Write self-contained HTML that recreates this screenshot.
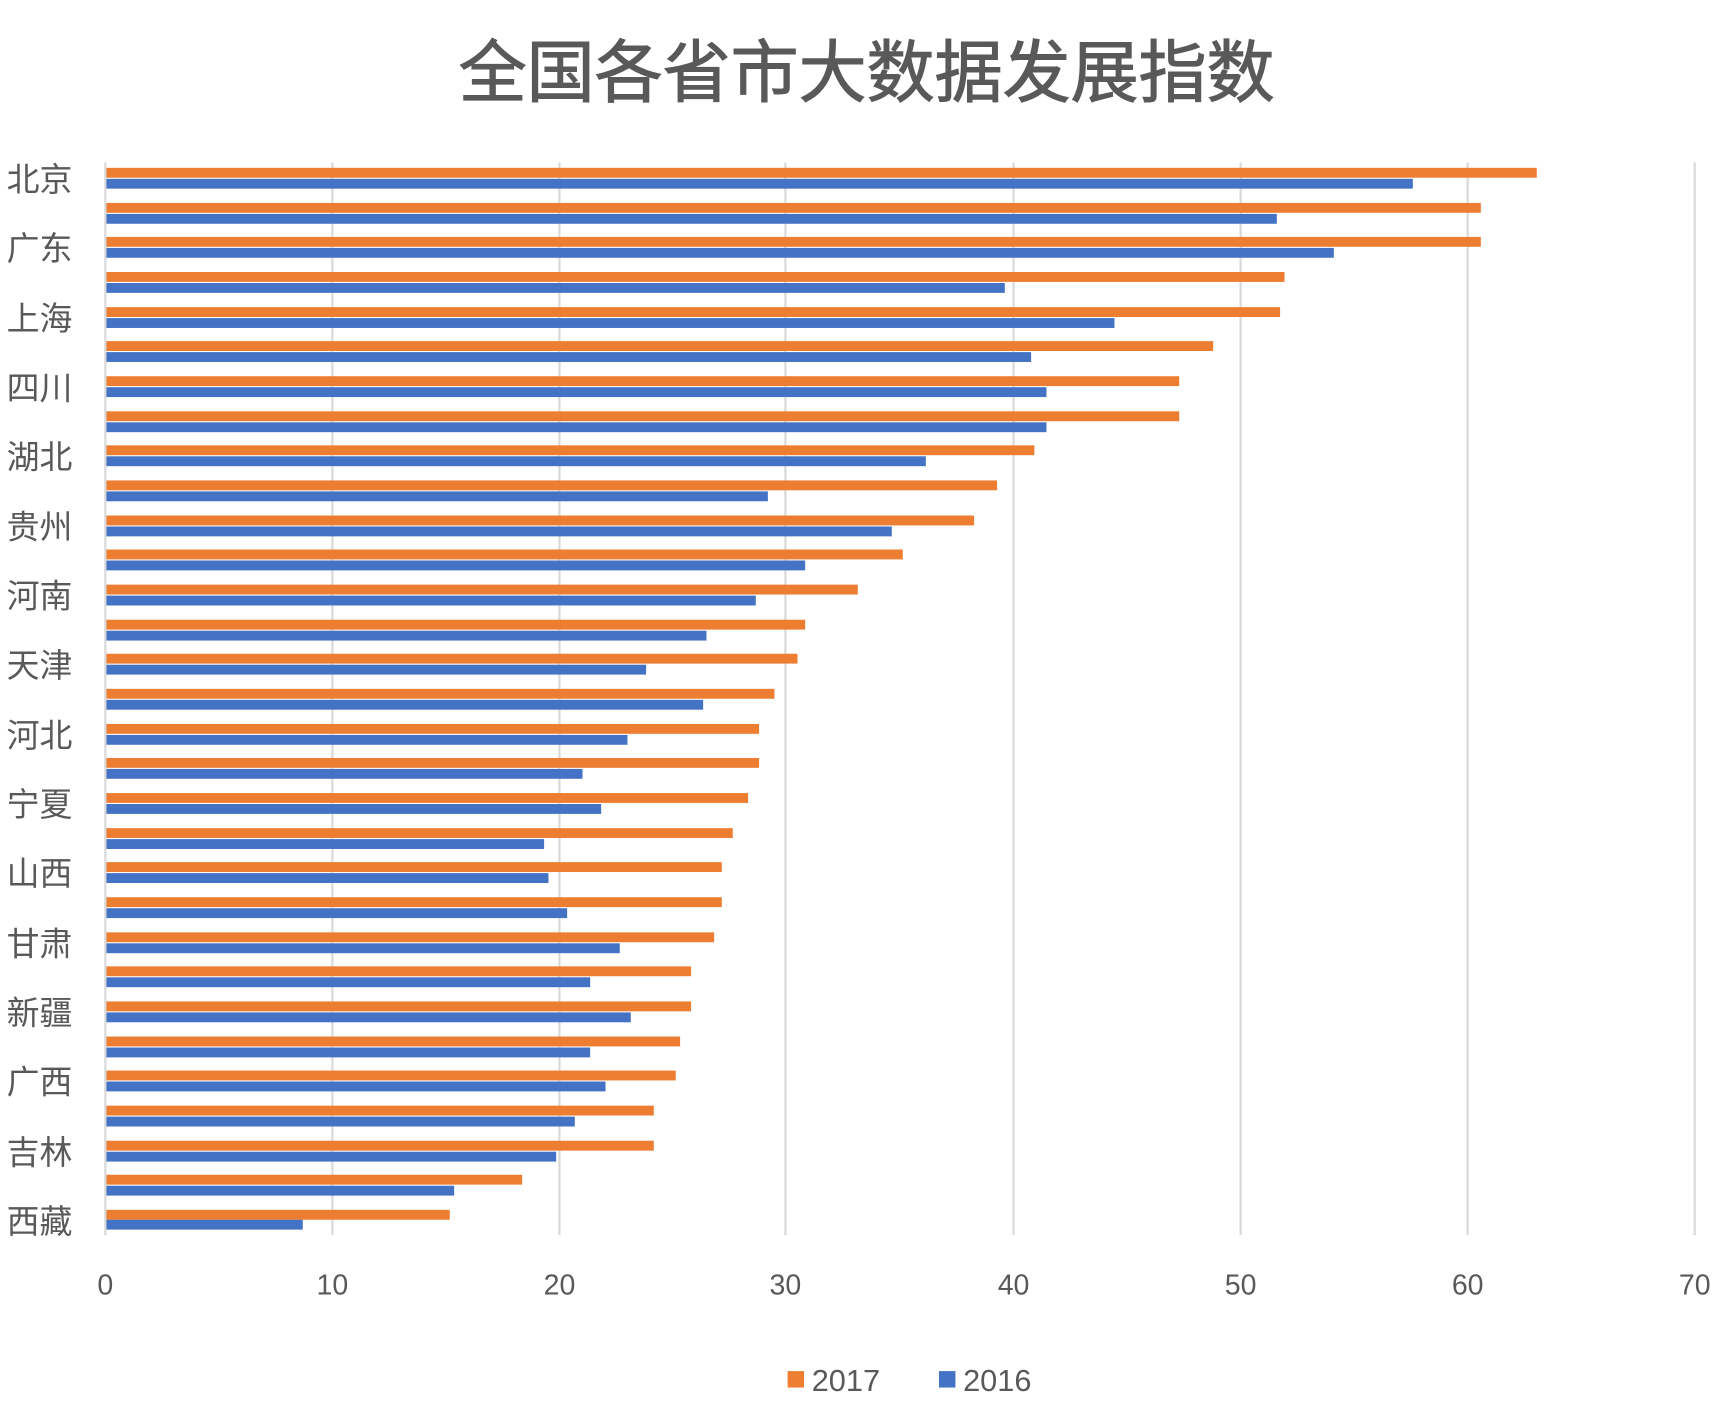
<!DOCTYPE html>
<html><head><meta charset="utf-8"><style>html,body{margin:0;padding:0;background:#fff}svg{display:block}</style></head>
<body>
<svg width="1720" height="1404" viewBox="0 0 1568 1280" xmlns="http://www.w3.org/2000/svg" font-family="'Liberation Sans','Noto Sans CJK SC',sans-serif">
<rect width="1568" height="1280" fill="#fff"/>
<text x="790" y="88" text-anchor="middle" font-size="62" fill="#595959" stroke="#595959" stroke-width="1" font-family="'Noto Sans CJK SC',sans-serif">全国各省市大数据发展指数</text>
<g stroke="#d9d9d9" stroke-width="2">
<line x1="303" y1="148" x2="303" y2="1126"/><line x1="510" y1="148" x2="510" y2="1126"/><line x1="716" y1="148" x2="716" y2="1126"/><line x1="924" y1="148" x2="924" y2="1126"/><line x1="1131" y1="148" x2="1131" y2="1126"/><line x1="1338" y1="148" x2="1338" y2="1126"/><line x1="1545" y1="148" x2="1545" y2="1126"/>
<line x1="96" y1="148" x2="96" y2="1126"/>
</g>
<g fill="#ED7D31">
<rect x="97" y="153" width="1304" height="9"/>
<rect x="97" y="185" width="1253" height="9"/>
<rect x="97" y="216" width="1253" height="9"/>
<rect x="97" y="248" width="1074" height="9"/>
<rect x="97" y="280" width="1070" height="9"/>
<rect x="97" y="311" width="1009" height="9"/>
<rect x="97" y="343" width="978" height="9"/>
<rect x="97" y="375" width="978" height="9"/>
<rect x="97" y="406" width="846" height="9"/>
<rect x="97" y="438" width="812" height="9"/>
<rect x="97" y="470" width="791" height="9"/>
<rect x="97" y="501" width="726" height="9"/>
<rect x="97" y="533" width="685" height="9"/>
<rect x="97" y="565" width="637" height="9"/>
<rect x="97" y="596" width="630" height="9"/>
<rect x="97" y="628" width="609" height="9"/>
<rect x="97" y="660" width="595" height="9"/>
<rect x="97" y="691" width="595" height="9"/>
<rect x="97" y="723" width="585" height="9"/>
<rect x="97" y="755" width="571" height="9"/>
<rect x="97" y="786" width="561" height="9"/>
<rect x="97" y="818" width="561" height="9"/>
<rect x="97" y="850" width="554" height="9"/>
<rect x="97" y="881" width="533" height="9"/>
<rect x="97" y="913" width="533" height="9"/>
<rect x="97" y="945" width="523" height="9"/>
<rect x="97" y="976" width="519" height="9"/>
<rect x="97" y="1008" width="499" height="9"/>
<rect x="97" y="1040" width="499" height="9"/>
<rect x="97" y="1071" width="379" height="9"/>
<rect x="97" y="1103" width="313" height="9"/>
</g>
<g fill="#4472C4">
<rect x="97" y="163" width="1191" height="9"/>
<rect x="97" y="195" width="1067" height="9"/>
<rect x="97" y="226" width="1119" height="9"/>
<rect x="97" y="258" width="819" height="9"/>
<rect x="97" y="290" width="919" height="9"/>
<rect x="97" y="321" width="843" height="9"/>
<rect x="97" y="353" width="857" height="9"/>
<rect x="97" y="385" width="857" height="9"/>
<rect x="97" y="416" width="747" height="9"/>
<rect x="97" y="448" width="603" height="9"/>
<rect x="97" y="480" width="716" height="9"/>
<rect x="97" y="511" width="637" height="9"/>
<rect x="97" y="543" width="592" height="9"/>
<rect x="97" y="575" width="547" height="9"/>
<rect x="97" y="606" width="492" height="9"/>
<rect x="97" y="638" width="544" height="9"/>
<rect x="97" y="670" width="475" height="9"/>
<rect x="97" y="701" width="434" height="9"/>
<rect x="97" y="733" width="451" height="9"/>
<rect x="97" y="765" width="399" height="9"/>
<rect x="97" y="796" width="403" height="9"/>
<rect x="97" y="828" width="420" height="9"/>
<rect x="97" y="860" width="468" height="9"/>
<rect x="97" y="891" width="441" height="9"/>
<rect x="97" y="923" width="478" height="9"/>
<rect x="97" y="955" width="441" height="9"/>
<rect x="97" y="986" width="455" height="9"/>
<rect x="97" y="1018" width="427" height="9"/>
<rect x="97" y="1050" width="410" height="9"/>
<rect x="97" y="1081" width="317" height="9"/>
<rect x="97" y="1112" width="179" height="9"/>
</g>
<g font-size="26" fill="#595959" text-anchor="middle">
<text x="96" y="1180">0</text><text x="303" y="1180">10</text><text x="510" y="1180">20</text><text x="716" y="1180">30</text><text x="924" y="1180">40</text><text x="1131" y="1180">50</text><text x="1338" y="1180">60</text><text x="1545" y="1180">70</text>
</g>
<g font-size="30" fill="#595959" font-family="'Noto Sans CJK SC',sans-serif">
<text x="6" y="174">北京</text>
<text x="6" y="237">广东</text>
<text x="6" y="301">上海</text>
<text x="6" y="364">四川</text>
<text x="6" y="427">湖北</text>
<text x="6" y="491">贵州</text>
<text x="6" y="554">河南</text>
<text x="6" y="617">天津</text>
<text x="6" y="681">河北</text>
<text x="6" y="744">宁夏</text>
<text x="6" y="807">山西</text>
<text x="6" y="871">甘肃</text>
<text x="6" y="934">新疆</text>
<text x="6" y="997">广西</text>
<text x="6" y="1061">吉林</text>
<text x="6" y="1124">西藏</text>
</g>
<rect x="718" y="1250" width="15" height="15" fill="#ED7D31"/>
<text x="740" y="1268" font-size="28" fill="#595959">2017</text>
<rect x="856" y="1250" width="15" height="15" fill="#4472C4"/>
<text x="878" y="1268" font-size="28" fill="#595959">2016</text>
</svg>
</body></html>
